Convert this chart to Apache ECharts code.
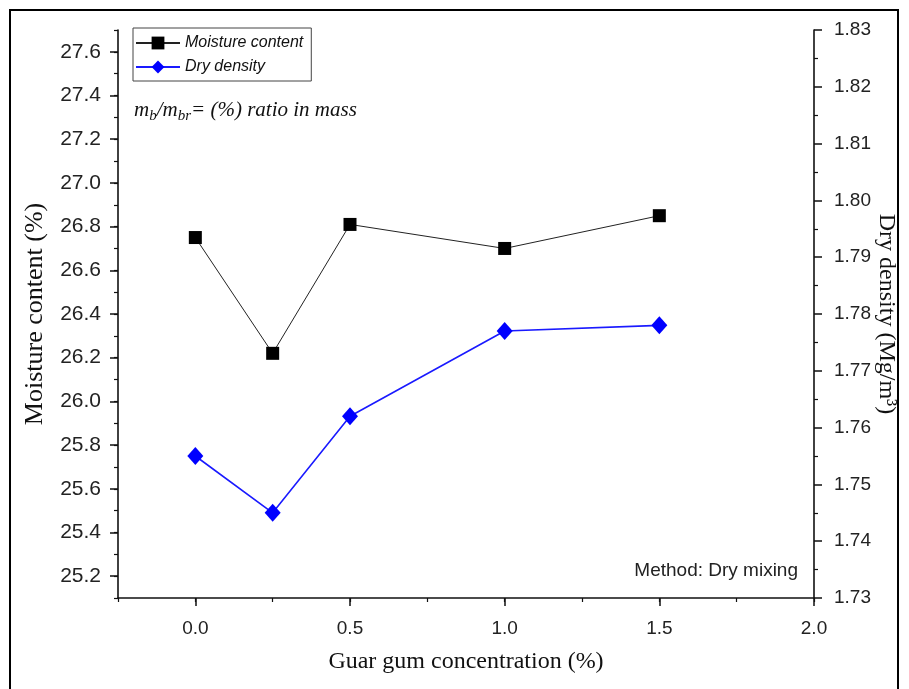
<!DOCTYPE html>
<html>
<head>
<meta charset="utf-8">
<script src="https://cdn.jsdelivr.net/npm/echarts@6/dist/echarts.min.js"></script>
<style>html,body{margin:0;padding:0;background:#fff;}#c{width:909px;height:689px;}</style>
</head>
<body>
<div id="c"></div>
<script>
const concentration = [0, 0.25, 0.5, 1.0, 1.5];
const moisture = [26.75, 26.22, 26.81, 26.70, 26.85];
const dryDensity = [1.755, 1.745, 1.762, 1.777, 1.778];
const xMajorTicks = [0, 0.5, 1.0, 1.5, 2.0];
const leftMajorTicks = [25.2, 25.4, 25.6, 25.8, 26.0, 26.2, 26.4, 26.6, 26.8, 27.0, 27.2, 27.4, 27.6];

const chart = echarts.init(document.getElementById('c'), null, {renderer: 'canvas'});
const axisColor = '#111';
const labelFont = 'Liberation Sans';
const titleFont = 'Liberation Serif';

chart.setOption({
  animation: false,
  backgroundColor: '#fff',
  grid: {left: 118, right: 95, top: 30, bottom: 91, containLabel: false, outerBoundsMode: 'none'},
  legend: {
    left: 133, top: 28,
    orient: 'vertical',
    padding: [7, 8, 6, 2],
    itemGap: 8,
    itemWidth: 44, itemHeight: 16,
    borderColor: '#444', borderWidth: 1,
    textStyle: {fontFamily: labelFont, fontStyle: 'italic', fontSize: 16, color: '#111'},
    data: ['Moisture content', 'Dry density']
  },
  xAxis: [
    {
      type: 'value', min: -0.25, max: 2.0, position: 'bottom',
      name: 'Guar gum concentration (%)', nameLocation: 'middle', nameGap: 52,
      nameTextStyle: {fontFamily: titleFont, fontSize: 24, color: '#111'},
      axisLine: {show: true, onZero: false, lineStyle: {color: axisColor, width: 1.6}},
      axisTick: {show: true, customValues: xMajorTicks, length: 8, lineStyle: {color: axisColor, width: 1.5}},
      axisLabel: {customValues: xMajorTicks, margin: 21, fontFamily: labelFont, fontSize: 19, color: '#222',
        formatter: v => v.toFixed(1)},
      splitLine: {show: false}
    },
    {
      type: 'value', min: -0.25, max: 2.0, interval: 0.25, position: 'bottom',
      axisLine: {show: false, onZero: false},
      axisTick: {show: true, length: 4, lineStyle: {color: axisColor, width: 1.2}},
      axisLabel: {show: false},
      splitLine: {show: false}
    }
  ],
  yAxis: [
    {
      type: 'value', min: 25.1, max: 27.7, position: 'left',
      name: 'Moisture content (%)', nameLocation: 'middle', nameGap: 70,
      nameTextStyle: {fontFamily: titleFont, fontSize: 26, color: '#111'},
      axisLine: {show: true, onZero: false, lineStyle: {color: axisColor, width: 1.6}},
      axisTick: {show: true, customValues: leftMajorTicks, length: 8, lineStyle: {color: axisColor, width: 1.5}},
      axisLabel: {customValues: leftMajorTicks, margin: 17, fontFamily: labelFont, fontSize: 21, color: '#222',
        formatter: v => v.toFixed(1)},
      splitLine: {show: false}
    },
    {
      type: 'value', min: 1.73, max: 1.83, interval: 0.01, position: 'right',
      name: 'Dry density (Mg/m³)', nameLocation: 'middle', nameGap: 60, nameRotate: -90,
      nameMoveOverlap: false,
      nameTextStyle: {fontFamily: titleFont, fontSize: 24, color: '#111'},
      axisLine: {show: true, onZero: false, lineStyle: {color: axisColor, width: 1.6}},
      axisTick: {show: true, length: 8, lineStyle: {color: axisColor, width: 1.5}},
      minorTick: {show: true, splitNumber: 2, length: 4, lineStyle: {color: axisColor, width: 1.2}},
      axisLabel: {margin: 20, fontFamily: labelFont, fontSize: 19, color: '#222',
        formatter: v => v.toFixed(2)},
      splitLine: {show: false},
      minorSplitLine: {show: false}
    },
    {
      type: 'value', min: 25.1, max: 27.7, interval: 0.1, position: 'left',
      axisLine: {show: false, onZero: false},
      axisTick: {show: true, length: 4, lineStyle: {color: axisColor, width: 1.2}},
      axisLabel: {show: false},
      splitLine: {show: false}
    }
  ],
  series: [
    {
      name: 'Moisture content', type: 'line', xAxisIndex: 0, yAxisIndex: 0,
      data: concentration.map((x, i) => [x, moisture[i]]),
      symbol: 'rect', symbolSize: 13,
      itemStyle: {color: '#000'},
      lineStyle: {color: '#222', width: 1}
    },
    {
      name: 'Dry density', type: 'line', xAxisIndex: 0, yAxisIndex: 1,
      data: concentration.map((x, i) => [x, dryDensity[i]]),
      symbol: 'diamond', symbolSize: [16, 18],
      itemStyle: {color: '#0000ff'},
      lineStyle: {color: '#1a1aff', width: 1.6}
    }
  ],
  graphic: [
    {
      type: 'rect', shape: {x: 10, y: 10, width: 888, height: 700},
      style: {fill: null, stroke: '#000', lineWidth: 2}, silent: true
    },
    {
      type: 'text', left: 134, top: 100,
      style: {
        text: '{i|m}{s|b}{i|/m}{s|br}{i|= (%) ratio in mass}',
        rich: {
          i: {fontFamily: titleFont, fontStyle: 'italic', fontSize: 21, fill: '#111'},
          s: {fontFamily: titleFont, fontStyle: 'italic', fontSize: 15, fill: '#111', padding: [11, 0, 0, 0]}
        }
      }
    },
    {
      type: 'text', right: 909 - 798, top: 561,
      style: {text: 'Method: Dry mixing', fontFamily: labelFont, fontSize: 19, fill: '#222'}
    }
  ]
});
</script>
</body>
</html>
